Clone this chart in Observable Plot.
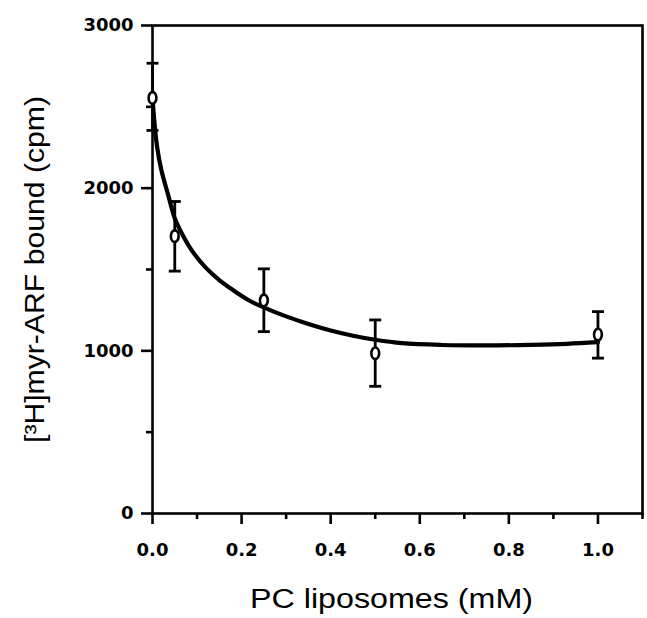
<!DOCTYPE html>
<html><head><meta charset="utf-8">
<script src="https://cdn.jsdelivr.net/npm/d3@7"></script>
<script src="https://cdn.jsdelivr.net/npm/@observablehq/plot@0.6"></script>
<style>
html,body{margin:0;padding:0;background:#fff;}
#chart svg g[aria-label$="tick label"]{font-family:"DejaVu Sans",sans-serif;font-weight:bold;font-size:18px;}
#chart svg g[aria-label$="axis label"]{font-family:"Liberation Sans",Arial,sans-serif;font-size:27px;}
</style></head><body><div id="chart"></div>
<script>
// measured points (mean with error bar ends)
const concentration = [0, 0.05, 0.25, 0.5, 1.0];
const boundMean = [2555, 1705, 1310, 985, 1100];
const boundLow  = [2355, 1490, 1118, 782, 955];
const boundHigh = [2768, 1918, 1504, 1190, 1241];
// fitted curve
const fitX = [0, 0.01, 0.02, 0.035, 0.05, 0.07, 0.09, 0.12, 0.15, 0.18, 0.22, 0.26, 0.30, 0.35, 0.40, 0.45, 0.50, 0.56, 0.65, 0.75, 0.85, 0.93, 1.0];
const fitY = [2550, 2260, 2110, 1960, 1815, 1700, 1610, 1510, 1435, 1375, 1305, 1255, 1212, 1165, 1125, 1093, 1068, 1047, 1036, 1033, 1037, 1043, 1053];
const xMajorTicks = [0, 0.2, 0.4, 0.6, 0.8, 1.0];
const xMinorTicks = [0.1, 0.3, 0.5, 0.7, 0.9, 1.1];
const yMajorTicks = [0, 1000, 2000, 3000];
const yMinorTicks = [500, 1500, 2500];
const xLabel = "PC liposomes (mM)";
const yLabel = "[³H]myr-ARF bound (cpm)";

const points = concentration.map((x, i) => ({x, y: boundMean[i], lo: boundLow[i], hi: boundHigh[i]}));
const fit = fitX.map((x, i) => ({x, y: fitY[i]}));

const ellipse = {draw(ctx) {
  const rx = 3.9, ry = 5.8, k = 0.5523;
  ctx.moveTo(rx, 0);
  ctx.bezierCurveTo(rx, ry * k, rx * k, ry, 0, ry);
  ctx.bezierCurveTo(-rx * k, ry, -rx, ry * k, -rx, 0);
  ctx.bezierCurveTo(-rx, -ry * k, -rx * k, -ry, 0, -ry);
  ctx.bezierCurveTo(rx * k, -ry, rx, -ry * k, rx, 0);
  ctx.closePath();
}};
const cap = {draw(ctx) { ctx.moveTo(-6, 0); ctx.lineTo(6, 0); }};

const chart = Plot.plot({
  width: 647, height: 618,
  marginLeft: 152, marginRight: 5, marginTop: 25, marginBottom: 105,
  x: {domain: [0, 1.1]},
  y: {domain: [0, 3000]},
  style: {background: "white", color: "black"},
  marks: [
    Plot.frame({strokeWidth: 2.6}),
    Plot.axisX({ticks: xMajorTicks, tickSize: 11, tickPadding: 19, strokeWidth: 2.6, tickFormat: d3.format(".1f"), label: xLabel, labelAnchor: "center", labelArrow: "none", labelOffset: 94}),
    Plot.axisX({ticks: xMinorTicks, tickSize: 6, strokeWidth: 2.6, tickFormat: () => "", label: null}),
    Plot.axisY({ticks: yMajorTicks, tickSize: 11, tickPadding: 8, strokeWidth: 2.6, tickFormat: d => String(d), label: yLabel, labelAnchor: "center", labelArrow: "none", labelOffset: 128}),
    Plot.axisY({ticks: yMinorTicks, tickSize: 6, strokeWidth: 2.6, tickFormat: () => "", label: null}),
    Plot.line(fit, {x: "x", y: "y", curve: "catmull-rom", strokeWidth: 4.2, stroke: "black"}),
    Plot.ruleX(points, {x: "x", y1: "lo", y2: "hi", strokeWidth: 2.8, stroke: "black"}),
    Plot.dot(points, {x: "x", y: "lo", symbol: cap, stroke: "black", strokeWidth: 2.8}),
    Plot.dot(points, {x: "x", y: "hi", symbol: cap, stroke: "black", strokeWidth: 2.8}),
    Plot.dot(points, {x: "x", y: "y", symbol: ellipse, fill: "white", stroke: "black", strokeWidth: 2.6})
  ]
});
document.getElementById("chart").append(chart);

const xl = chart.querySelector('g[aria-label="x-axis label"] text');
if (xl) { xl.setAttribute("textLength", 283); xl.setAttribute("lengthAdjust", "spacingAndGlyphs"); xl.setAttribute("dx", -6); }
const yl = chart.querySelector('g[aria-label="y-axis label"] text');
if (yl) { yl.setAttribute("textLength", 347); yl.setAttribute("lengthAdjust", "spacingAndGlyphs"); }
</script></body></html>
